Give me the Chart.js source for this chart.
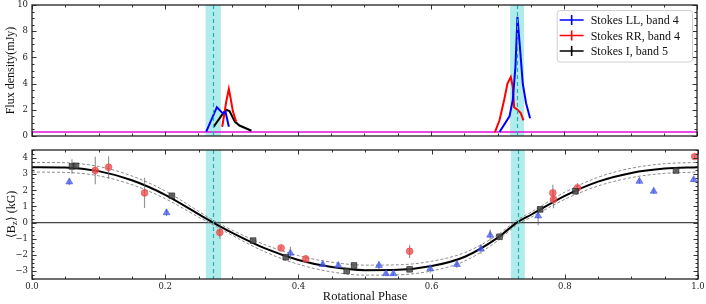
<!DOCTYPE html>
<html>
<head>
<meta charset="utf-8">
<script src="https://cdn.jsdelivr.net/npm/chart.js@4.4.0/dist/chart.umd.min.js"></script>
<style>
  html, body { margin: 0; padding: 0; background: #fff; }
  #wrap { position: relative; width: 706px; height: 304px; }
  #fluxCanvas { position: absolute; left: 0; top: 0; }
  #bzCanvas { position: absolute; left: 0; top: 145px; }
</style>
</head>
<body>
<div id="wrap">
  <canvas id="fluxCanvas" width="706" height="145"></canvas>
  <canvas id="bzCanvas" width="706" height="159"></canvas>
</div>
<script>
// ---- top panel: radio light curves (null = gap between the two pulses)
const llPhase = [0.262, 0.278, 0.287, 0.291, 0.296, 0.5, 0.703, 0.718, 0.723, 0.727, 0.730, 0.734, 0.738, 0.743, 0.749];
const llFlux  = [0.33, 2.2, 1.73, 1.85, 0.7, null, 0.3, 1.5, 2.75, 5.3, 9.1, 6.6, 4.0, 2.5, 1.35];

const rrPhase = [0.286, 0.289, 0.292, 0.296, 0.299, 0.302, 0.305, 0.307, 0.5, 0.696, 0.703, 0.710, 0.715, 0.720, 0.723, 0.725, 0.730, 0.735, 0.739];
const rrFlux  = [0.7, 1.6, 2.6, 3.6, 2.8, 1.9, 1.4, 1.1, null, 0.28, 1.2, 2.75, 4.0, 4.5, 3.75, 2.2, 2.0, 1.75, 1.2];

const iPhase = [0.273, 0.287, 0.292, 0.297, 0.305, 0.312, 0.330];
const iFlux  = [0.7, 1.7, 2.0, 1.9, 1.1, 0.8, 0.4];

const noiseLevel = 0.3;   // magenta line, mJy
const fluxTicks = [0, 2, 4, 6, 8, 10];

// cyan windows around the nulls of <Bz>
const bandLo  = [0.261, 0.719];
const bandHi  = [0.284, 0.740];
const bandMid = [0.272, 0.729];

// ---- bottom panel: longitudinal field
const sqPhase = [0.060, 0.066, 0.210, 0.332, 0.381, 0.4725, 0.4835, 0.567, 0.702, 0.763, 0.816, 0.967];
const sqBz    = [3.48, 3.52, 1.66, -1.12, -2.15, -3.00, -2.66, -2.90, -0.88, 0.82, 1.94, 3.23];
const sqErr   = [0.45, 0.15, 0.12, 0.10, 0.12, 0.10, 0.10, 0.10, 0.12, 0.15, 0.12, 0.10];

const rdPhase = [0.095, 0.115, 0.169, 0.282, 0.374, 0.411, 0.567, 0.782, 0.783, 0.819, 0.995];
const rdBz    = [3.23, 3.43, 1.84, -0.61, -1.57, -2.25, -1.78, 1.84, 1.43, 2.15, 4.09];
const rdErr   = [0.85, 0.69, 0.94, 0.40, 0.12, 0.20, 0.41, 0.50, 0.55, 0.30, 0.12];

const blPhase = [0.056, 0.202, 0.388, 0.4365, 0.460, 0.521, 0.5315, 0.5425, 0.598, 0.638, 0.674, 0.688, 0.760, 0.912, 0.9335, 0.9935];
const blBz    = [2.52, 0.61, -1.90, -2.60, -2.66, -2.66, -3.17, -3.17, -2.86, -2.60, -1.64, -0.78, 0.41, 2.56, 1.94, 2.66];
const blErr   = [0.20, 0.20, 0.40, 0.15, 0.15, 0.25, 0.12, 0.12, 0.25, 0.20, 0.30, 0.35, 0.58, 0.15, 0.15, 0.15];

// fitted model and its envelope
const modelPhase = [0, 0.05, 0.1, 0.15, 0.2, 0.25, 0.272, 0.3, 0.35, 0.4, 0.45, 0.5, 0.55, 0.6, 0.65, 0.7, 0.728, 0.75, 0.8, 0.85, 0.9, 0.95, 1.0];
const modelBz    = [3.43, 3.41, 3.19, 2.62, 1.72, 0.52, 0.0, -0.62, -1.60, -2.32, -2.76, -2.95, -2.93, -2.70, -2.12, -0.92, 0.0, 0.50, 1.66, 2.54, 3.08, 3.35, 3.43];
const modelUpper = [3.73, 3.71, 3.48, 2.89, 1.96, 0.70, 0.14, -0.46, -1.38, -2.05, -2.46, -2.64, -2.62, -2.40, -1.86, -0.74, 0.14, 0.66, 1.88, 2.81, 3.37, 3.65, 3.73];
const modelLower = [3.13, 3.11, 2.90, 2.35, 1.48, 0.34, -0.14, -0.78, -1.82, -2.59, -3.06, -3.26, -3.24, -3.00, -2.38, -1.10, -0.14, 0.34, 1.44, 2.27, 2.79, 3.05, 3.13];

const bzTicks = [-3, -2, -1, 0, 1, 2, 3, 4];
const phaseTicks = [0, 0.2, 0.4, 0.6, 0.8, 1.0];

const SERIF = "'Liberation Serif', 'Times New Roman', serif";
const TICKFONT = { family: "'DejaVu Serif', serif", size: 8.5 };

function pts(xs, ys) {
    return xs.map((x, i) => ({ x: x, y: ys[i] }));
}

// vertical error bars as one broken line dataset
function errPts(xs, ys, es) {
    const out = [];
    xs.forEach((x, i) => {
        out.push({ x: x, y: ys[i] - es[i] });
        out.push({ x: x, y: ys[i] + es[i] });
        out.push({ x: x, y: null });
    });
    return out;
}

function setTicks(list) {
    return s => { s.ticks = list.map(v => ({ value: v })); };
}

// bands, box frame and inward ticks (matplotlib look)
const framePlugin = {
    id: 'frame',
    beforeDatasetsDraw(chart) {
        const { ctx, chartArea: a, scales: { x } } = chart;
        ctx.save();
        for (let i = 0; i < bandLo.length; i++) {
            const x0 = x.getPixelForValue(bandLo[i]);
            const x1 = x.getPixelForValue(bandHi[i]);
            ctx.fillStyle = '#b0ecec';
            ctx.fillRect(x0, a.top, x1 - x0, a.bottom - a.top);
        }
        ctx.restore();
    },
    afterDatasetsDraw(chart, args, opts) {
        const { ctx, chartArea: a, scales: { x, y } } = chart;
        ctx.save();
        // dashed centre lines
        ctx.strokeStyle = '#1fb0b0';
        ctx.lineWidth = 1.2;
        ctx.setLineDash([4, 3]);
        bandMid.forEach(m => {
            const xm = Math.round(x.getPixelForValue(m)) + 0.5;
            ctx.beginPath(); ctx.moveTo(xm, a.top); ctx.lineTo(xm, a.bottom); ctx.stroke();
        });
        ctx.setLineDash([]);
        ctx.strokeStyle = '#333';
        ctx.lineWidth = 1;
        const tick = (x0, y0, x1, y1) => { ctx.beginPath(); ctx.moveTo(x0, y0); ctx.lineTo(x1, y1); ctx.stroke(); };
        // minor ticks
        for (let v = x.min; v <= x.max + 1e-9; v += opts.xMinor) {
            const px = Math.round(x.getPixelForValue(v)) + 0.5;
            tick(px, a.bottom, px, a.bottom - 2.5); tick(px, a.top, px, a.top + 2.5);
        }
        for (let v = Math.ceil(y.min / opts.yMinor) * opts.yMinor; v <= y.max + 1e-9; v += opts.yMinor) {
            const py = Math.round(y.getPixelForValue(v)) + 0.5;
            tick(a.left, py, a.left + 2.5, py); tick(a.right, py, a.right - 2.5, py);
        }
        // major ticks
        x.ticks.forEach(t => {
            const px = Math.round(x.getPixelForValue(t.value)) + 0.5;
            tick(px, a.bottom, px, a.bottom - 4.5); tick(px, a.top, px, a.top + 4.5);
        });
        y.ticks.forEach(t => {
            const py = Math.round(y.getPixelForValue(t.value)) + 0.5;
            tick(a.left, py, a.left + 4.5, py); tick(a.right, py, a.right - 4.5, py);
        });
        // frame
        ctx.lineWidth = 1.3;
        ctx.strokeStyle = '#222';
        ctx.strokeRect(a.left, a.top, a.right - a.left, a.bottom - a.top);
        ctx.restore();
    }
};

// legend inside the top panel, errorbar style markers
const legendPlugin = {
    id: 'boxLegend',
    afterDraw(chart) {
        const { ctx, chartArea: a } = chart;
        const items = chart.data.datasets.filter(d => d.label);
        ctx.save();
        ctx.font = '12px ' + SERIF;
        const textW = Math.max(...items.map(d => ctx.measureText(d.label).width));
        const rowH = 15.5;
        const w = 8 + 24 + 8 + textW + 6;
        const h = items.length * rowH + 5;
        const x0 = a.right - 5 - w, y0 = a.top + 5;
        ctx.fillStyle = 'rgba(255,255,255,0.85)';
        ctx.strokeStyle = '#d0d0d0';
        ctx.lineWidth = 1;
        ctx.beginPath();
        ctx.roundRect(x0 + 0.5, y0 + 0.5, w, h, 3);
        ctx.fill(); ctx.stroke();
        items.forEach((d, i) => {
            const cy = y0 + 10 + i * rowH;
            ctx.strokeStyle = d.borderColor;
            ctx.lineWidth = 1.6;
            ctx.beginPath();
            ctx.moveTo(x0 + 3, cy); ctx.lineTo(x0 + 27, cy);
            ctx.moveTo(x0 + 15, cy - 5); ctx.lineTo(x0 + 15, cy + 5);
            ctx.stroke();
            ctx.fillStyle = '#111';
            ctx.textBaseline = 'middle';
            ctx.fillText(d.label, x0 + 34, cy + 1);
        });
        ctx.restore();
    }
};

// y title with a subscript, bottom panel
const bzTitlePlugin = {
    id: 'bzTitle',
    afterDraw(chart) {
        const { ctx, chartArea: a } = chart;
        const big = '12px ' + SERIF, small = '9px ' + SERIF;
        const parts = [['\u27E8B', big, 0], ['z', small, 3], ['\u27E9 (kG)', big, 0]];
        ctx.save();
        ctx.translate(12, (a.top + a.bottom) / 2);
        ctx.rotate(-Math.PI / 2);
        let total = 0;
        parts.forEach(p => { ctx.font = p[1]; total += ctx.measureText(p[0]).width; });
        let cx = -total / 2;
        ctx.fillStyle = '#111';
        ctx.textBaseline = 'middle';
        parts.forEach(p => {
            ctx.font = p[1];
            ctx.fillText(p[0], cx, p[2]);
            cx += ctx.measureText(p[0]).width;
        });
        ctx.restore();
    }
};

function fixY(width) {
    return s => { s.width = width; s.paddingTop = 0; s.paddingBottom = 0; };
}
function fixX(height) {
    return s => { s.height = height; s.paddingLeft = 0; s.paddingRight = 0; };
}

function fluxChart() {
    const lineDs = (label, xs, ys, color) => ({
        label: label, data: pts(xs, ys), borderColor: color, backgroundColor: color,
        borderWidth: 2, pointRadius: 0, spanGaps: false, tension: 0
    });
    new Chart(document.getElementById('fluxCanvas'), {
        type: 'line',
        data: {
            datasets: [
                lineDs('Stokes LL, band 4', llPhase, llFlux, '#0000ff'),
                lineDs('Stokes RR, band 4', rrPhase, rrFlux, '#ff0000'),
                lineDs('Stokes I, band 5', iPhase, iFlux, '#000000'),
                {
                    data: pts([0, 1], [noiseLevel, noiseLevel]), borderColor: '#e010e0',
                    borderWidth: 1.6, pointRadius: 0
                }
            ]
        },
        options: {
            responsive: false,
            animation: false,
            layout: { padding: { top: 5, right: 9, bottom: 9, left: 0 } },
            scales: {
                x: {
                    type: 'linear', min: 0, max: 1,
                    grid: { display: false, drawTicks: false }, border: { display: false },
                    ticks: { display: false },
                    afterBuildTicks: setTicks(phaseTicks),
                    afterFit: fixX(0)
                },
                y: {
                    min: 0, max: 10,
                    grid: { display: false, drawTicks: false }, border: { display: false },
                    ticks: { font: TICKFONT, color: '#222', padding: 4 },
                    afterBuildTicks: setTicks(fluxTicks),
                    title: { display: true, text: 'Flux density(mJy)', font: { family: SERIF, size: 12 }, color: '#111', padding: { top: 4, bottom: 0 } },
                    afterFit: fixY(32)
                }
            },
            plugins: {
                legend: { display: false },
                tooltip: { enabled: false },
                frame: { xMinor: 0.05, yMinor: 0.5 }
            }
        },
        plugins: [framePlugin, legendPlugin]
    });
}

function bzChart() {
    const errDs = (xs, ys, es) => ({
        data: errPts(xs, ys, es), borderColor: 'rgba(95,95,95,0.65)', borderWidth: 1.2,
        pointRadius: 0, spanGaps: false, order: 2
    });
    const markDs = (xs, ys, style, r, fill, edge) => ({
        data: pts(xs, ys), showLine: false, pointStyle: style, pointRadius: r,
        backgroundColor: fill, borderColor: edge, borderWidth: 0.8, order: 1
    });
    const modelDs = (ys, color, width, dash) => ({
        data: pts(modelPhase, ys), borderColor: color, borderWidth: width, borderDash: dash,
        pointRadius: 0, cubicInterpolationMode: 'monotone', order: 3
    });
    new Chart(document.getElementById('bzCanvas'), {
        type: 'line',
        data: {
            datasets: [
                { data: pts([0, 1], [0, 0]), borderColor: '#444', borderWidth: 1.3, pointRadius: 0, order: 5 },
                modelDs(modelUpper, '#8c8c8c', 1, [3, 2]),
                modelDs(modelLower, '#8c8c8c', 1, [3, 2]),
                modelDs(modelBz, '#000', 2, []),
                errDs(sqPhase, sqBz, sqErr),
                errDs(rdPhase, rdBz, rdErr),
                errDs(blPhase, blBz, blErr),
                markDs(sqPhase, sqBz, 'rect', 4.0, 'rgba(70,70,70,0.8)', 'rgba(30,30,30,0.8)'),
                markDs(rdPhase, rdBz, 'circle', 3.4, 'rgba(240,70,70,0.75)', 'rgba(240,70,70,0.75)'),
                markDs(blPhase, blBz, 'triangle', 4, 'rgba(60,80,240,0.7)', 'rgba(60,80,240,0.7)')
            ]
        },
        options: {
            responsive: false,
            animation: false,
            layout: { padding: { top: 5, right: 8, bottom: 0, left: 0 } },
            scales: {
                x: {
                    type: 'linear', min: 0, max: 1,
                    grid: { display: false, drawTicks: false }, border: { display: false },
                    ticks: { font: TICKFONT, color: '#222', padding: 3, maxRotation: 0,
                             callback: v => v.toFixed(1) },
                    afterBuildTicks: setTicks(phaseTicks),
                    title: { display: true, text: 'Rotational Phase', font: { family: SERIF, size: 12.5 }, color: '#111', padding: { top: 0, bottom: 0 } },
                    afterFit: fixX(25)
                },
                y: {
                    min: -3.5, max: 4.5,
                    grid: { display: false, drawTicks: false }, border: { display: false },
                    ticks: { font: TICKFONT, color: '#222', padding: 4,
                             callback: v => (v < 0 ? '\u2212' + Math.abs(v) : String(v)) },
                    afterBuildTicks: setTicks(bzTicks),
                    afterFit: fixY(32)
                }
            },
            plugins: {
                legend: { display: false },
                tooltip: { enabled: false },
                frame: { xMinor: 0.05, yMinor: 0.25 }
            }
        },
        plugins: [framePlugin, bzTitlePlugin]
    });
}

fluxChart();
bzChart();
</script>
</body>
</html>
